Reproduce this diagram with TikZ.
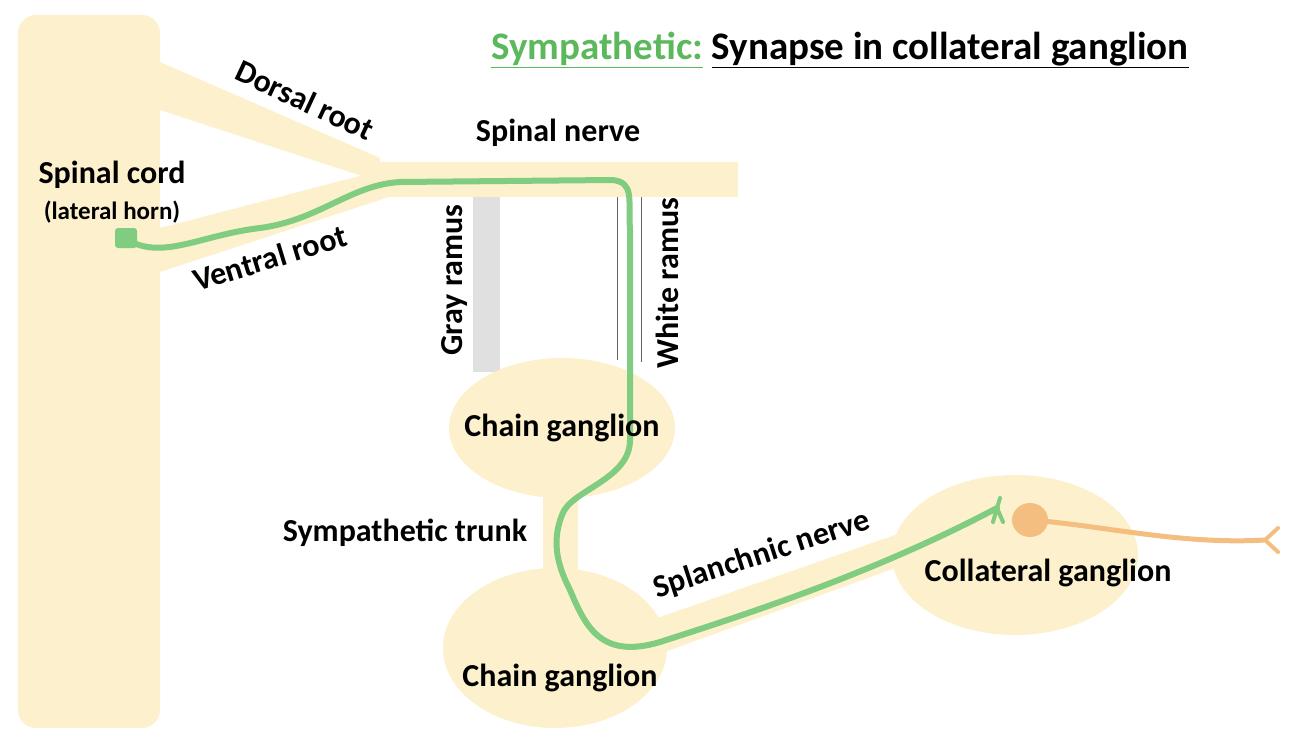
\documentclass[tikz,border=0pt]{standalone}
\usepackage{fontspec}
\setmainfont{Carlito}
\usetikzlibrary{shapes.geometric}
\definecolor{tissue}{HTML}{FCF1CC}
\definecolor{fiber}{HTML}{80CC80}
\definecolor{post}{HTML}{F4BE80}
\definecolor{fibertitle}{HTML}{5CB85C}
\tikzset{
  lbl/.style={font=\bfseries\fontsize{32}{36}\selectfont, inner sep=1pt},
  tissue/.style={fill=tissue, draw=none},
  ganglion/.style={ellipse, fill=tissue, draw=none},
}
\begin{document}
\begin{tikzpicture}[x=1pt,y=-1pt]
	\useasboundingbox (0,0) rectangle (1290,738);
	% cord, roots and nerve
	\fill[tissue, rounded corners=18pt] (18,15) rectangle (160,728);
	\fill[tissue] (160,62) -- (380,158) -- (380,182) -- (160,110) -- cycle;
	\fill[tissue] (160,228) -- (375,172) -- (392,196) -- (160,272) -- cycle;
	\fill[tissue] (370,162) rectangle (738,197);
	% rami
	\fill[black!12] (473,197) rectangle (500,372);
	\draw[black!60, thin] (617,197) -- (617,360) (641,197) -- (641,362);
	% trunk and splanchnic band
	\fill[tissue] (543,490) rectangle (578,585);
	\fill[tissue] (600,638) -- (995,500) -- (1005,528) -- (610,672) -- cycle;
	% ganglia
	\node[ganglion, minimum width=226pt, minimum height=140pt] (cg1) at (562,428) {};
	\node[ganglion, minimum width=224pt, minimum height=160pt] (cg2) at (555,648) {};
	\node[ganglion, minimum width=246pt, minimum height=160pt] (colg) at (1015,555) {};
	% preganglionic fiber
	\coordinate (soma) at (125,238);
	\coordinate (tip) at (997,508);
	\fill[fiber, rounded corners=3pt] (115,228) rectangle (137,248);
	\draw[fiber, line width=6pt, line cap=round, line join=round]
		(soma) .. controls (160,262) and (200,235) .. (260,228)
		.. controls (320,220) and (350,185) .. (400,182)
		-- (612,180) .. controls (635,182) and (628,200) .. (630,230)
		-- (630,440) .. controls (630,480) and (570,490) .. (562,515)
		.. controls (550,545) and (560,570) .. (570,590)
		.. controls (585,625) and (600,660) .. (660,642)
		.. controls (760,610) and (880,570) .. (tip);
	\draw[fiber, line width=4pt, line cap=round] (tip) -- (1000,498) (tip) -- (993,522) (tip) -- (1003,522);
	% postganglionic fiber
	\coordinate (psoma) at (1030,520);
	\coordinate (ptip) at (1265,540);
	\fill[post] (1030,520) ellipse (18pt and 17pt);
	\draw[post, line width=5pt, line cap=round]
		(psoma) .. controls (1100,525) and (1180,545) .. (ptip);
	\draw[post, line width=4pt, line cap=round] (ptip) -- (1278,528) (ptip) -- (1278,552);
	% labels
	\node[lbl, font=\bfseries\fontsize{39}{44}\selectfont] (title) at (840,50)
		{\textcolor{fibertitle}{\underline{Sympathetic:}} \underline{Synapse in collateral ganglion}};
	\node[lbl, rotate=-25] (dr) at (305,100) {Dorsal root};
	\node[lbl] (sn) at (558,133) {Spinal nerve};
	\node[lbl] (sc) at (112,175) {Spinal cord};
	\node[lbl, font=\bfseries\fontsize{25}{28}\selectfont] (lh) at (112,212) {(lateral horn)};
	\node[lbl, rotate=17] (vr) at (270,258) {Ventral root};
	\node[lbl, rotate=90] (gr) at (455,280) {Gray ramus};
	\node[lbl, rotate=90] (wr) at (667,283) {White ramus};
	\node[lbl] at (cg1) {Chain ganglion};
	\node[lbl] (st) at (405,533) {Sympathetic trunk};
	\node[lbl, rotate=18] (spn) at (762,555) {Splanchnic nerve};
	\node[lbl] at (560,678) {Chain ganglion};
	\node[lbl] at (1048,573) {Collateral ganglion};
\end{tikzpicture}
\end{document}
